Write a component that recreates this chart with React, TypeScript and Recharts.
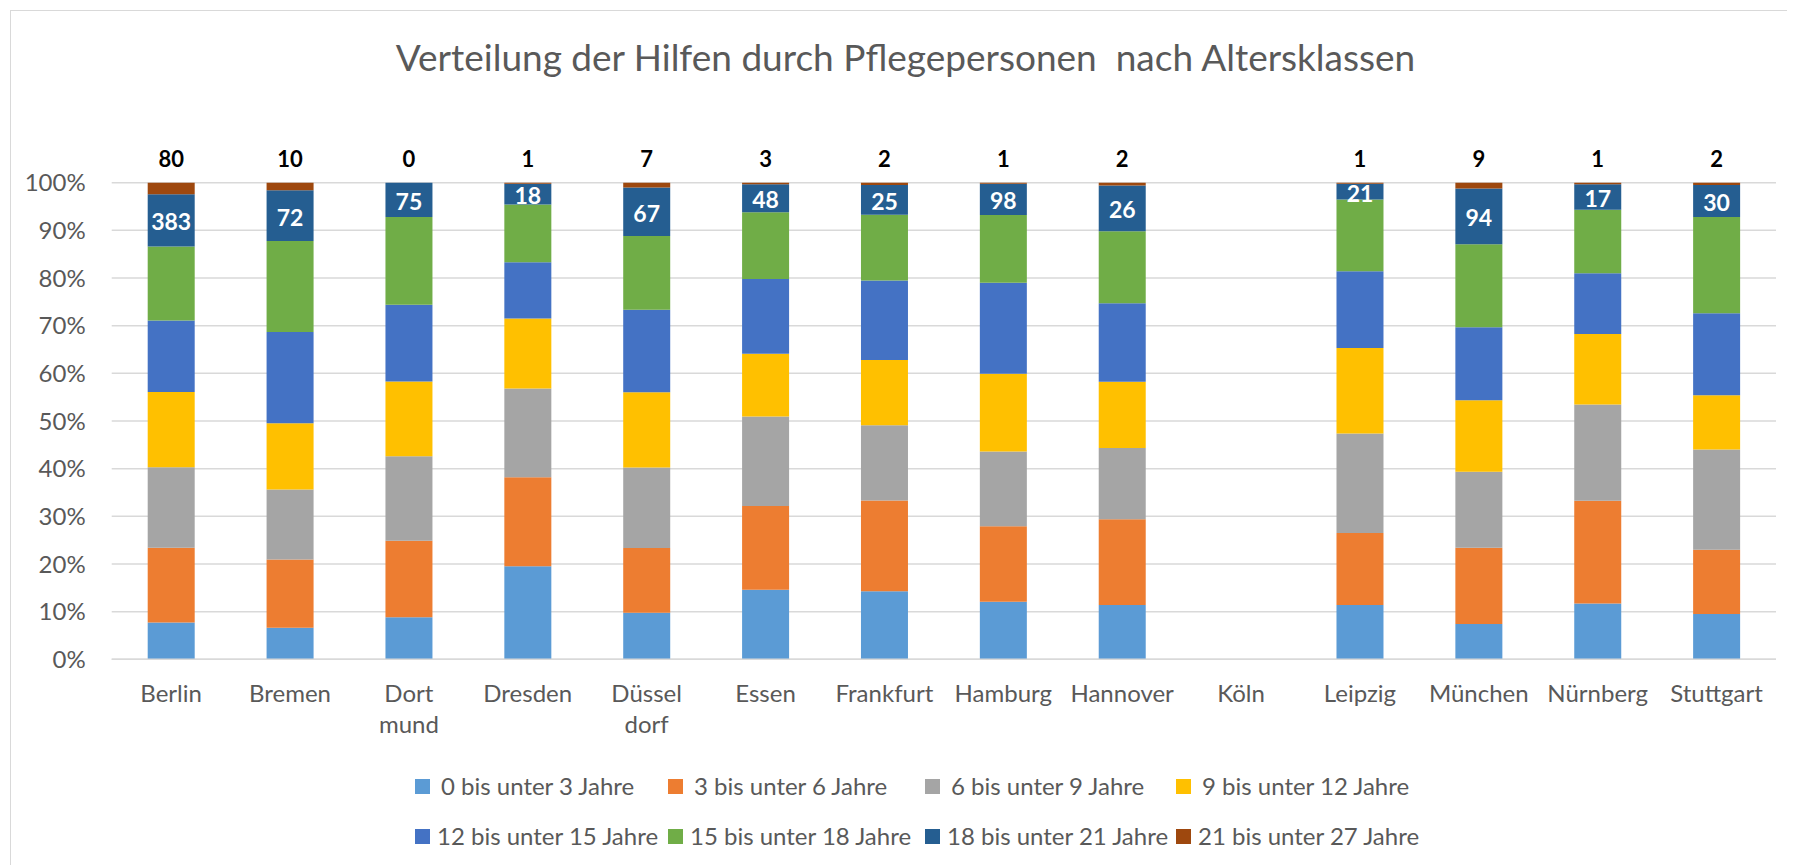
import React from "react";
import { BarChart, Bar, XAxis, YAxis, CartesianGrid, Legend, LabelList } from "recharts";

// ---------- data ----------
const cities = ["Berlin", "Bremen", "Dort\nmund", "Dresden", "Düssel\ndorf", "Essen", "Frankfurt", "Hamburg", "Hannover", "Köln", "Leipzig", "München", "Nürnberg", "Stuttgart"];

const seriesNames = ["0 bis unter 3 Jahre", "3 bis unter 6 Jahre", "6 bis unter 9 Jahre", "9 bis unter 12 Jahre", "12 bis unter 15 Jahre", "15 bis unter 18 Jahre", "18 bis unter 21 Jahre", "21 bis unter 27 Jahre"];

// shares in percent
const a0_3 = [7.7, 6.6, 8.8, 19.5, 9.8, 14.6, 14.3, 12.1, 11.4, 0, 11.4, 7.4, 11.7, 9.5];
const a3_6 = [15.7, 14.3, 16.1, 18.7, 13.6, 17.6, 19.0, 15.8, 18.0, 0, 15.1, 16.0, 21.6, 13.5];
const a6_9 = [16.9, 14.7, 17.7, 18.6, 16.9, 18.8, 15.8, 15.7, 15.0, 0, 20.9, 15.9, 20.2, 21.0];
const a9_12 = [15.8, 13.9, 15.7, 14.7, 15.8, 13.2, 13.7, 16.3, 13.9, 0, 17.9, 15.0, 14.8, 11.4];
const a12_15 = [15.0, 19.1, 16.1, 11.8, 17.3, 15.7, 16.7, 19.1, 16.5, 0, 16.1, 15.3, 12.8, 17.2];
const a15_18 = [15.5, 19.1, 18.4, 12.1, 15.5, 14.0, 13.8, 14.2, 15.1, 0, 15.1, 17.4, 13.3, 20.2];
const a18_21 = [11.0, 10.6, 7.2, 4.4, 10.2, 5.9, 6.2, 6.6, 9.6, 0, 3.3, 11.7, 5.4, 6.7];
const a21_27 = [2.4, 1.6, 0, 0.2, 1.0, 0.3, 0.5, 0.2, 0.6, 0, 0.2, 1.2, 0.3, 0.5];

// absolute counts shown as labels
const n18_21 = [383, 72, 75, 18, 67, 48, 25, 98, 26, null, 21, 94, 17, 30];
const n21_27 = [80, 10, 0, 1, 7, 3, 2, 1, 2, null, 1, 9, 1, 2];

const yTicks = [0, 0.1, 0.2, 0.3, 0.4, 0.5, 0.6, 0.7, 0.8, 0.9, 1];

const title = "Verteilung der Hilfen durch Pflegepersonen  nach Altersklassen";

// ---------- styling ----------
const colors = ["#5B9BD5", "#ED7D31", "#A5A5A5", "#FFC000", "#4472C4", "#70AD47", "#255E91", "#9E480E"];
const keys = ["s0", "s1", "s2", "s3", "s4", "s5", "s6", "s7"];
const FONT = "Lato, 'Open Sans', sans-serif";
const TXT = "#595959";

const W = 1779;
const H = 857;

const seriesArrays = [a0_3, a3_6, a6_9, a9_12, a12_15, a15_18, a18_21, a21_27];

const data = cities.map((c, i) => {
  const row: any = { city: c, idx: `${i}`, n18: n18_21[i] };
  keys.forEach((k, j) => {
    row[k] = seriesArrays[j][i];
  });
  return row;
});

const XTick = (props: any) => {
  const { x, y, payload } = props;
  const lines = String(payload.value).split("\n");
  return (
    <text x={x} y={y} textAnchor="middle" fill={TXT} fontSize={24} fontFamily={FONT}>
      {lines.map((l, i) => (
        <tspan key={i} x={x} dy={i === 0 ? 43 : 31}>
          {l}
        </tspan>
      ))}
    </text>
  );
};

const getBox = (p: any) => {
  const vb = p.viewBox || {};
  return {
    x: p.x ?? vb.x,
    y: p.y ?? vb.y,
    width: p.width ?? vb.width,
    height: p.height ?? vb.height,
  };
};

// label for the 21-27 series, drawn from the 18-21 segment so that zero-height tops still get a label
const TopLabel = (p: any) => {
  const i = Number(p.value);
  if (!Number.isFinite(i)) return null;
  const v = n21_27[i];
  if (v === null || v === undefined) return null;
  const b = getBox(p);
  const share = a18_21[i] > 0 ? a21_27[i] / a18_21[i] : 0;
  const top = b.y - b.height * share;
  return (
    <text x={b.x + b.width / 2} y={top - 24} textAnchor="middle" dominantBaseline="central" fill="#000" fontSize={22} fontWeight={700} fontFamily={FONT}>
      {v}
    </text>
  );
};

const MidLabel = (p: any) => {
  if (p.value === null || p.value === undefined) return null;
  const b = getBox(p);
  return (
    <text x={b.x + b.width / 2} y={b.y + b.height / 2 + 1} textAnchor="middle" dominantBaseline="central" fill="#fff" fontSize={23} fontWeight={700} fontFamily={FONT}>
      {p.value}
    </text>
  );
};

const legendCols = [407, 660, 917, 1168];
const legendRows = [778, 828];

const LegendBox = () => (
  <div style={{ position: "relative", width: W, height: H }}>
    {seriesNames.map((name, i) => {
      const col = i % 4;
      const row = Math.floor(i / 4);
      return (
        <div
          key={name}
          style={{
            position: "absolute",
            left: legendCols[col],
            top: legendRows[row] - 15,
            height: 30,
            display: "flex",
            alignItems: "center",
            whiteSpace: "nowrap",
          }}
        >
          <span style={{ display: "inline-block", width: 15, height: 15, background: colors[i] }} />
          <span style={{ marginLeft: row === 0 ? 11 : 7, fontSize: 24, color: TXT, fontFamily: FONT, lineHeight: "30px" }}>{name}</span>
        </div>
      );
    })}
  </div>
);

export default function App() {
  return (
    <div style={{ position: "relative", width: W, height: H }}>
      <div
        style={{
          position: "absolute",
          left: 2,
          top: 2,
          width: 1780,
          height: 900,
          border: "1.5px solid #d9d9d9",
          boxSizing: "border-box",
        }}
      />
      <div
        style={{
          position: "absolute",
          left: 8,
          top: 30,
          width: W,
          textAlign: "center",
          fontFamily: FONT,
          fontSize: 37,
          lineHeight: "38px",
          color: TXT,
          whiteSpace: "pre",
        }}
      >
        {title}
      </div>
      <div style={{ position: "absolute", left: 0, top: 0 }}>
        <BarChart
          width={W}
          height={H}
          data={data}
          stackOffset="expand"
          barSize={47}
          margin={{ top: 174.7, right: 11, left: 43.7, bottom: 125.7 }}
        >
          <CartesianGrid vertical={false} stroke="#d9d9d9" strokeWidth={1.5} />
          <XAxis
            dataKey="city"
            interval={0}
            height={80}
            tickLine={false}
            tickSize={0}
            tickMargin={0}
            axisLine={{ stroke: "#d9d9d9", strokeWidth: 1.5 }}
            tick={<XTick />}
          />
          <YAxis
            width={60}
            domain={[0, 1]}
            ticks={yTicks}
            tickFormatter={(v: number) => `${Math.round(v * 100)}%`}
            axisLine={false}
            tickLine={false}
            tickSize={0}
            tickMargin={26}
            tick={{ fill: TXT, fontSize: 24, fontFamily: FONT }}
          />
          <Legend
            verticalAlign="middle"
            layout="horizontal"
            align="center"
            wrapperStyle={{ left: 0, top: 0, width: W, height: H, pointerEvents: "none" }}
            content={() => <LegendBox />}
          />
          {keys.map((k, i) => (
            <Bar key={k} dataKey={k} name={seriesNames[i]} stackId="a" fill={colors[i]} isAnimationActive={false}>
              {i === 6 ? <LabelList dataKey="n18" content={MidLabel} /> : null}
              {i === 6 ? <LabelList dataKey="idx" content={TopLabel} /> : null}
            </Bar>
          ))}
        </BarChart>
      </div>
    </div>
  );
}
